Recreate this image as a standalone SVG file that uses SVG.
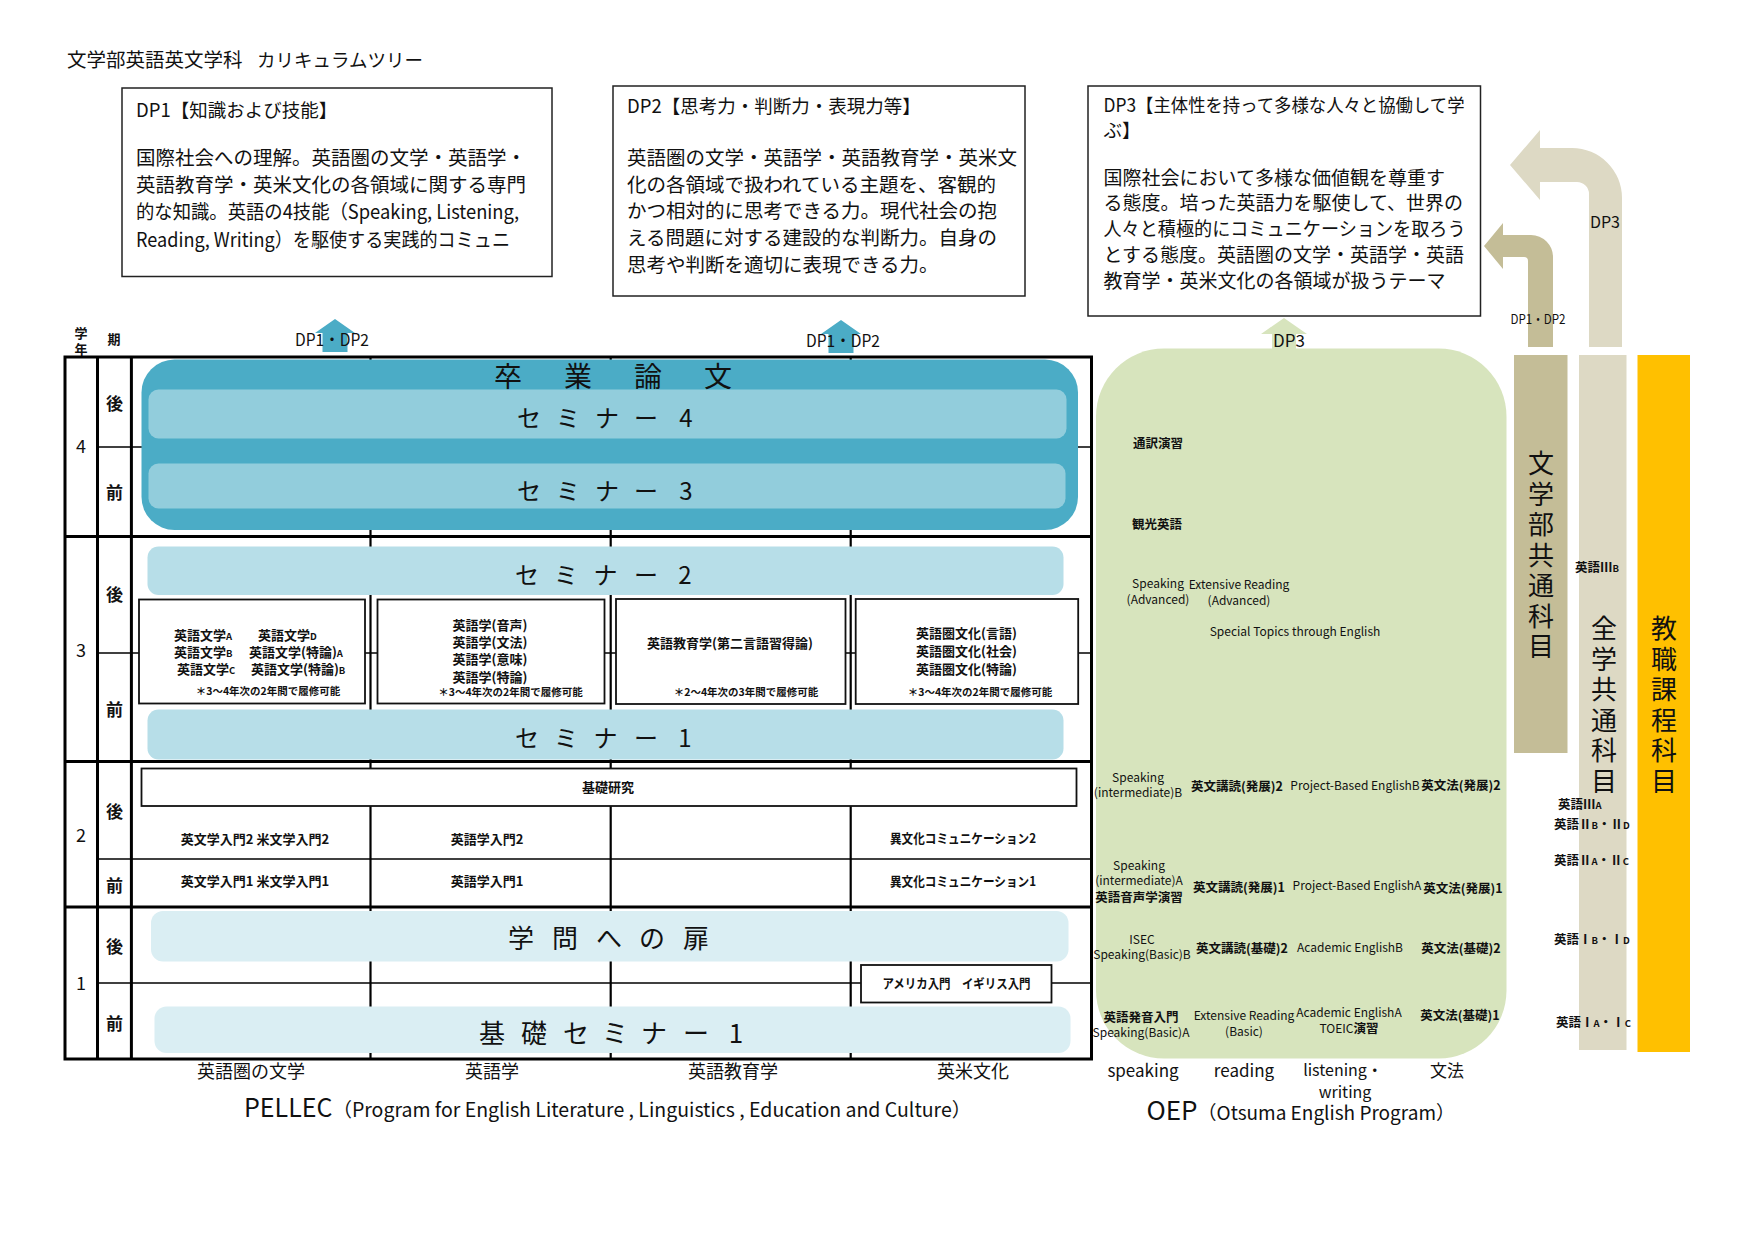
<svg xmlns="http://www.w3.org/2000/svg" width="1755" height="1241" viewBox="0 0 1755 1241">
<defs>
<style>
text { font-family: 'Noto Sans CJK JP','Noto Sans',sans-serif; fill:#111; }
.dph { font-size:18.5px; }
.dpb { font-size:19.5px; }
.dpb3 { font-size:19px; }
.thick { stroke:#000; stroke-width:3; fill:none; }
.thin { stroke:#000; stroke-width:1.5; fill:none; }
.col { stroke:#000; stroke-width:2.2; fill:none; }
.box { fill:#fff; stroke:#111; stroke-width:1.8; }
.dpbox { fill:#fff; stroke:#222; stroke-width:1.5; }
.bar { font-size:24px; text-anchor:middle; }
.bar26 { font-size:26px; text-anchor:middle; }
.big { font-size:28px; text-anchor:middle; }
.ct { font-size:13px; font-weight:bold; }
.cm { font-size:13px; font-weight:bold; text-anchor:middle; }
.note { font-size:10.5px; font-weight:bold; text-anchor:middle; }
.g { font-size:12px; text-anchor:middle; }
.gj { font-size:12.5px; font-weight:bold; text-anchor:middle; }
.gjs { font-size:12.5px; font-weight:bold; }
.lab { font-size:18px; text-anchor:middle; }
.gl { font-size:17px; text-anchor:middle; }
.gl2 { font-size:16px; text-anchor:middle; }
.per { font-size:17px; font-weight:bold; text-anchor:middle; }
.yr { font-size:18px; text-anchor:middle; }
.vt { font-size:26px; text-anchor:middle; writing-mode:vertical-rl; letter-spacing:4.5px; }
.dpl { font-size:17px; text-anchor:middle; }
.sm { font-size:9.5px; }
.rj { font-size:12.5px; font-weight:bold; }
</style>
<path id="upArrow" d="M0,0 L20,14 L12.5,14 L12.5,33 L-12.5,33 L-12.5,14 L-20,14 Z"/>
</defs>

<rect width="1755" height="1241" fill="#fff"/>

<g id="title">
<text x="67" y="66.5" font-size="19.5">文学部英語英文学科</text>
<text x="257" y="66.5" font-size="18.5">カリキュラムツリー</text>
</g>

<g id="dp1">
<rect class="dpbox" x="122" y="88" width="430" height="188.5"/>
<text class="dph" x="136" y="117">DP1【知識および技能】</text>
<text class="dpb" x="136" y="165">国際社会への理解。英語圏の文学・英語学・</text>
<text class="dpb" x="136" y="192">英語教育学・英米文化の各領域に関する専門</text>
<text class="dpb" x="136" y="219" textLength="383" lengthAdjust="spacingAndGlyphs">的な知識。英語の4技能（Speaking, Listening,</text>
<text class="dpb" x="136" y="247" textLength="374" lengthAdjust="spacingAndGlyphs">Reading, Writing）を駆使する実践的コミュニ</text>
</g>

<g id="dp2">
<rect class="dpbox" x="613" y="86" width="412" height="210"/>
<text class="dph" x="627" y="113">DP2【思考力・判断力・表現力等】</text>
<text class="dpb" x="627" y="165">英語圏の文学・英語学・英語教育学・英米文</text>
<text class="dpb" x="627" y="192">化の各領域で扱われている主題を、客観的</text>
<text class="dpb" x="627" y="218">かつ相対的に思考できる力。現代社会の抱</text>
<text class="dpb" x="627" y="245">える問題に対する建設的な判断力。自身の</text>
<text class="dpb" x="627" y="272">思考や判断を適切に表現できる力。</text>
</g>

<g id="dp3">
<rect class="dpbox" x="1088" y="86" width="392.5" height="230"/>
<text class="dph" x="1103.5" y="112" textLength="361" lengthAdjust="spacingAndGlyphs">DP3【主体性を持って多様な人々と協働して学</text>
<text class="dph" x="1103.5" y="137">ぶ】</text>
<text class="dpb3" x="1103.5" y="185">国際社会において多様な価値観を尊重す</text>
<text class="dpb3" x="1103.5" y="210">る態度。培った英語力を駆使して、世界の</text>
<text class="dpb3" x="1103.5" y="236" textLength="362" lengthAdjust="spacingAndGlyphs">人々と積極的にコミュニケーションを取ろう</text>
<text class="dpb3" x="1103.5" y="262">とする態度。英語圏の文学・英語学・英語</text>
<text class="dpb3" x="1103.5" y="288">教育学・英米文化の各領域が扱うテーマ</text>
</g>

<g id="bent-arrows">
<path d="M1622,347 V198 A50,50 0 0 0 1572,148 H1540 V130 L1510,165 L1540,200 V182 H1577 A12,12 0 0 1 1589,194 V347 Z" fill="#DDD9C4"/>
<text x="1605" y="228" font-size="16" text-anchor="middle">DP3</text>
<path d="M1553,347 V257 A22,22 0 0 0 1531,235 H1503 V223 L1484,246 L1503,269 V257 H1524 A4,4 0 0 1 1528,261 V347 Z" fill="#C4BD97"/>
<text x="1538" y="324" font-size="13.5" text-anchor="middle" textLength="55" lengthAdjust="spacingAndGlyphs">DP1・DP2</text>
</g>

<g id="up-arrows">
<use href="#upArrow" transform="translate(335,319)" fill="#4BACC6"/>
<use href="#upArrow" transform="translate(841,320)" fill="#4BACC6"/>
<path d="M1284,318 L1307,334 L1296,334 L1296,350 L1272,350 L1272,334 L1261,334 Z" fill="#D7E4BD"/>
<text class="dpl" x="332" y="346" textLength="74" lengthAdjust="spacingAndGlyphs">DP1・DP2</text>
<text class="dpl" x="843" y="346.5" textLength="74" lengthAdjust="spacingAndGlyphs">DP1・DP2</text>
<text class="dpl" x="1289" y="346.5">DP3</text>
</g>

<g id="header">
<text x="81" y="338" font-size="13" font-weight="bold" text-anchor="middle">学</text>
<text x="81" y="354" font-size="13" font-weight="bold" text-anchor="middle">年</text>
<text x="114" y="344" font-size="13" font-weight="bold" text-anchor="middle">期</text>
</g>

<g id="grid">
<line class="thin" x1="97.5" y1="447" x2="1091.5" y2="447"/>
<line class="thin" x1="97.5" y1="653" x2="1091.5" y2="653"/>
<line class="thin" x1="97.5" y1="859" x2="1091.5" y2="859"/>
<line class="thin" x1="97.5" y1="983" x2="1091.5" y2="983"/>
<line class="col" x1="370.5" y1="357" x2="370.5" y2="1059"/>
<line class="col" x1="610.7" y1="357" x2="610.7" y2="1059"/>
<line class="col" x1="850.7" y1="357" x2="850.7" y2="1059"/>
<line class="thick" x1="65" y1="536.5" x2="1091.5" y2="536.5"/>
<line class="thick" x1="65" y1="761.5" x2="1091.5" y2="761.5"/>
<line class="thick" x1="65" y1="907" x2="1091.5" y2="907"/>
<line class="thick" x1="97.5" y1="357" x2="97.5" y2="1059"/>
<line class="thick" x1="131.4" y1="357" x2="131.4" y2="1059"/>
<rect class="thick" x="65" y="357" width="1026.5" height="702"/>
</g>

<g id="year-labels">
<text class="yr" x="81" y="453">4</text>
<text class="yr" x="81" y="657">3</text>
<text class="yr" x="81" y="842">2</text>
<text class="yr" x="81" y="990">1</text>
<text class="per" x="114.5" y="410">後</text>
<text class="per" x="114.5" y="499">前</text>
<text class="per" x="114.5" y="601">後</text>
<text class="per" x="114.5" y="716">前</text>
<text class="per" x="114.5" y="818">後</text>
<text class="per" x="114.5" y="892">前</text>
<text class="per" x="114.5" y="953">後</text>
<text class="per" x="114.5" y="1030">前</text>
</g>

<g id="thesis">
<rect x="141.5" y="359.5" width="936.5" height="170.5" rx="33" fill="#4BACC6"/>
<text class="big" x="508 578 648 718" y="387">卒業論文</text>
</g>

<g id="seminar4">
<rect x="148.5" y="389.5" width="918" height="49" rx="10" fill="#92CDDC"/>
<text class="bar" x="529 568 607 646 686" y="427">セミナー4</text>
</g>

<g id="seminar3">
<rect x="148.5" y="463.5" width="917" height="45" rx="10" fill="#92CDDC"/>
<text class="bar" x="529 568 607 646 686" y="500">セミナー3</text>
</g>

<g id="seminar2">
<rect x="147.5" y="546.5" width="916" height="48.5" rx="11" fill="#B7DEE8"/>
<text class="bar" x="527 566 605.5 646 685" y="584">セミナー2</text>
</g>

<g id="lit3">
<rect class="box" x="139" y="599.5" width="226" height="104"/>
<text class="ct" x="174" y="640">英語文学<tspan class="sm">A</tspan></text>
<text class="ct" x="258" y="640">英語文学<tspan class="sm">D</tspan></text>
<text class="ct" x="174" y="657">英語文学<tspan class="sm">B</tspan></text>
<text class="ct" x="249" y="657">英語文学(特論)<tspan class="sm">A</tspan></text>
<text class="ct" x="177" y="674">英語文学<tspan class="sm">C</tspan></text>
<text class="ct" x="251" y="674">英語文学(特論)<tspan class="sm">B</tspan></text>
<text class="note" x="268" y="695">＊3～4年次の2年間で履修可能</text>
</g>

<g id="ling3">
<rect class="box" x="377.5" y="599.5" width="227" height="104"/>
<text class="cm" x="490" y="630">英語学(音声)</text>
<text class="cm" x="490" y="647">英語学(文法)</text>
<text class="cm" x="490" y="664">英語学(意味)</text>
<text class="cm" x="490" y="681.5">英語学(特論)</text>
<text class="note" x="510.5" y="696">＊3～4年次の2年間で履修可能</text>
</g>

<g id="edu3">
<rect class="box" x="616" y="599" width="229.5" height="105"/>
<text class="cm" x="730" y="648">英語教育学(第二言語習得論)</text>
<text class="note" x="746" y="696">＊2～4年次の3年間で履修可能</text>
</g>

<g id="cult3">
<rect class="box" x="855.7" y="599" width="222.5" height="105"/>
<text class="cm" x="966.5" y="638">英語圏文化(言語)</text>
<text class="cm" x="966.5" y="656">英語圏文化(社会)</text>
<text class="cm" x="966.5" y="673.5">英語圏文化(特論)</text>
<text class="note" x="980" y="696">＊3～4年次の2年間で履修可能</text>
</g>

<g id="seminar1">
<rect x="147.5" y="709.5" width="916" height="50" rx="11" fill="#B7DEE8"/>
<text class="bar" x="527 566 605.5 646 685" y="747">セミナー1</text>
</g>

<g id="kiso-kenkyu">
<rect class="box" x="141.5" y="768.5" width="935" height="37.5"/>
<text class="cm" x="608" y="792">基礎研究</text>
</g>

<g id="year2-courses">
<text class="cm" x="255" y="844">英文学入門2 米文学入門2</text>
<text class="cm" x="487" y="844">英語学入門2</text>
<text class="cm" x="963" y="843" textLength="146" lengthAdjust="spacingAndGlyphs">異文化コミュニケーション2</text>
<text class="cm" x="255" y="886">英文学入門1 米文学入門1</text>
<text class="cm" x="487" y="886">英語学入門1</text>
<text class="cm" x="963" y="886" textLength="146" lengthAdjust="spacingAndGlyphs">異文化コミュニケーション1</text>
</g>

<g id="gakumon">
<rect x="151" y="911" width="917.5" height="50.5" rx="12" fill="#DAEEF3"/>
<text class="bar26" x="521 565 609 652 696" y="948">学問への扉</text>
</g>

<g id="america">
<rect class="box" x="861" y="965" width="190.5" height="37.5"/>
<text class="cm" x="956.5" y="987.5" textLength="148" lengthAdjust="spacingAndGlyphs">アメリカ入門　イギリス入門</text>
</g>

<g id="kiso-seminar">
<rect x="154.5" y="1006.5" width="916" height="46.5" rx="12" fill="#DAEEF3"/>
<text class="bar26" x="492 534 576 615 654 696 736" y="1043">基礎セミナー1</text>
</g>

<g id="pellec-labels">
<text class="lab" x="251" y="1078">英語圏の文学</text>
<text class="lab" x="492" y="1078">英語学</text>
<text class="lab" x="733" y="1078">英語教育学</text>
<text class="lab" x="973" y="1078">英米文化</text>
<text x="244" y="1117"><tspan font-size="25">PELLEC</tspan><tspan font-size="19.5">（Program for English Literature , Linguistics , Education and Culture）</tspan></text>
</g>

<g id="oep">
<rect x="1096" y="348.5" width="410.5" height="710" rx="68" fill="#D7E4BD"/>
<text class="gjs" x="1133" y="448">通訳演習</text>
<text class="gjs" x="1132" y="529">観光英語</text>
<text class="g" x="1158" y="588">Speaking</text>
<text class="g" x="1158" y="604">(Advanced)</text>
<text class="g" x="1239" y="589">Extensive Reading</text>
<text class="g" x="1239" y="605">(Advanced)</text>
<text class="g" x="1295" y="636">Special Topics through English</text>

<text class="g" x="1138" y="782">Speaking</text>
<text class="g" x="1138" y="797">(intermediate)B</text>
<text class="gj" x="1237" y="791">英文講読(発展)2</text>
<text class="g" x="1355" y="790">Project-Based EnglishB</text>
<text class="gj" x="1461" y="790">英文法(発展)2</text>

<text class="g" x="1139" y="870">Speaking</text>
<text class="g" x="1139" y="885">(intermediate)A</text>
<text class="gj" x="1139" y="902">英語音声学演習</text>
<text class="gj" x="1239" y="892">英文講読(発展)1</text>
<text class="g" x="1357" y="890">Project-Based EnglishA</text>
<text class="gj" x="1463" y="893">英文法(発展)1</text>

<text class="g" x="1142" y="944">ISEC</text>
<text class="g" x="1142" y="959">Speaking(Basic)B</text>
<text class="gj" x="1242" y="953">英文講読(基礎)2</text>
<text class="g" x="1350" y="952">Academic EnglishB</text>
<text class="gj" x="1461" y="953">英文法(基礎)2</text>

<text class="gj" x="1141" y="1022">英語発音入門</text>
<text class="g" x="1141" y="1037">Speaking(Basic)A</text>
<text class="g" x="1244" y="1020">Extensive Reading</text>
<text class="g" x="1244" y="1036">(Basic)</text>
<text class="g" x="1349" y="1017">Academic EnglishA</text>
<text class="g" x="1349" y="1033">TOEIC<tspan font-weight="bold" font-size="12.5">演習</tspan></text>
<text class="gj" x="1460" y="1020">英文法(基礎)1</text>

<text class="gl" x="1143" y="1077">speaking</text>
<text class="gl" x="1244" y="1077">reading</text>
<text class="gl2" x="1343" y="1076">listening・</text>
<text class="gl2" x="1345" y="1098">writing</text>
<text class="gl" x="1447" y="1077">文法</text>
<text x="1146.5" y="1120"><tspan font-size="26">OEP</tspan><tspan font-size="19">（Otsuma English Program）</tspan></text>
</g>

<g id="faculty-common">
<rect x="1514" y="355" width="53.5" height="398" fill="#C4BD97"/>
<text class="vt" x="1541" y="557">文学部共通科目</text>
</g>

<g id="university-common">
<rect x="1579" y="355" width="47.5" height="695" fill="#DDD9C4"/>
<text class="vt" x="1604" y="707">全学共通科目</text>
<text class="rj" x="1575" y="571.5">英語Ⅲ<tspan class="sm">B</tspan></text>
<text class="rj" x="1558" y="809">英語Ⅲ<tspan class="sm">A</tspan></text>
<text class="rj" x="1554" y="829">英語Ⅱ<tspan class="sm">B</tspan>・Ⅱ<tspan class="sm">D</tspan></text>
<text class="rj" x="1554" y="865">英語Ⅱ<tspan class="sm">A</tspan>・Ⅱ<tspan class="sm">C</tspan></text>
<text class="rj" x="1554" y="944">英語Ⅰ<tspan class="sm">B</tspan>・Ⅰ<tspan class="sm">D</tspan></text>
<text class="rj" x="1556" y="1026.5">英語Ⅰ<tspan class="sm">A</tspan>・Ⅰ<tspan class="sm">C</tspan></text>
</g>

<g id="teacher-course">
<rect x="1637.5" y="355" width="52.5" height="697" fill="#FFC000"/>
<text class="vt" x="1664" y="707">教職課程科目</text>
</g>
</svg>
